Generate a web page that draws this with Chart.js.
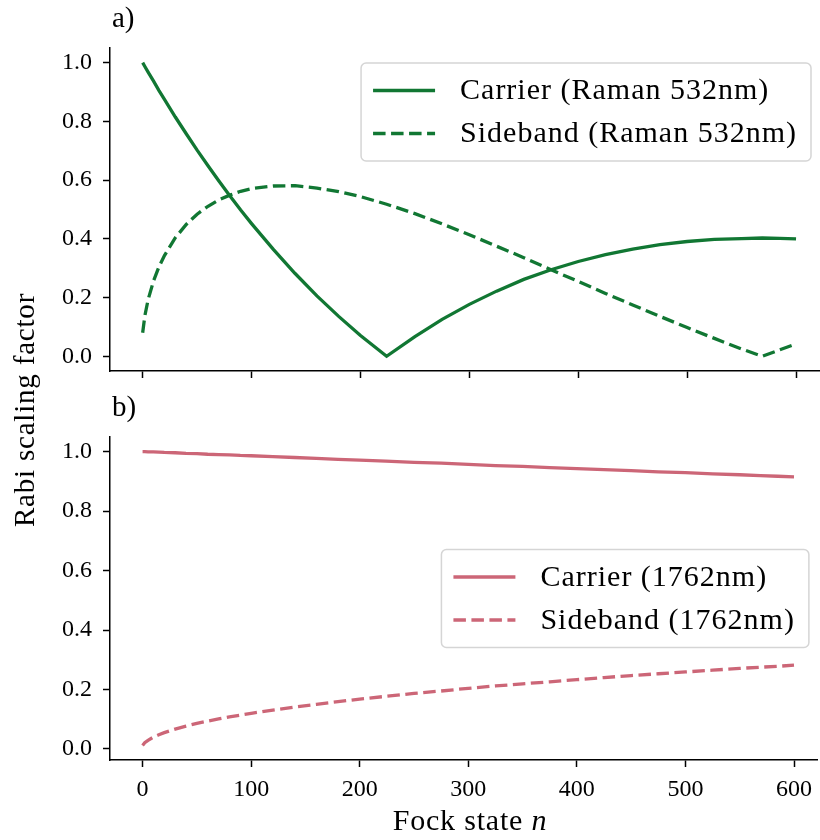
<!DOCTYPE html>
<html>
<head>
<meta charset="utf-8">
<script src="https://cdn.jsdelivr.net/npm/chart.js@4.4.1/dist/chart.umd.min.js"></script>
<style>
  body { margin: 0; background: #fff; }
  #wrap { position: relative; width: 820px; height: 840px; }
  #wrap canvas { position: absolute; left: 0; top: 0; }
</style>
</head>
<body>
<div id="wrap">
  <canvas id="chartA" width="820" height="840"></canvas>
  <canvas id="chartB" width="820" height="840"></canvas>
</div>
<script>
// Fock state n (x values shared by every curve)
const fockN = [0, 2, 5, 10, 15, 20, 30, 40, 50, 60, 70, 80, 90, 100, 120, 140, 160, 180, 200, 224,
  250, 275, 300, 325, 350, 375, 400, 425, 450, 475, 500, 525, 550, 569, 585, 600];

// a) Raman 532nm
const carrier532 = [1.000, 0.987, 0.968, 0.937, 0.905, 0.875, 0.815, 0.758, 0.702, 0.649, 0.597, 0.547,
  0.498, 0.452, 0.364, 0.282, 0.206, 0.136, 0.071, 0.000, 0.067, 0.126, 0.177, 0.222, 0.262, 0.295,
  0.323, 0.346, 0.365, 0.380, 0.391, 0.398, 0.401, 0.403, 0.402, 0.400];
const sideband532 = [0.080, 0.138, 0.193, 0.257, 0.305, 0.343, 0.404, 0.449, 0.484, 0.511, 0.533, 0.549,
  0.562, 0.571, 0.580, 0.581, 0.573, 0.561, 0.544, 0.518, 0.486, 0.451, 0.414, 0.375, 0.336, 0.295,
  0.255, 0.214, 0.175, 0.136, 0.098, 0.061, 0.025, 0.000, 0.022, 0.042];

// b) 1762nm
const carrier1762 = [1.000, 1.000, 0.999, 0.999, 0.998, 0.997, 0.996, 0.994, 0.993, 0.991, 0.990, 0.989,
  0.987, 0.986, 0.983, 0.980, 0.977, 0.974, 0.971, 0.968, 0.964, 0.961, 0.957, 0.953, 0.950, 0.946,
  0.943, 0.939, 0.936, 0.932, 0.929, 0.925, 0.922, 0.919, 0.917, 0.915];
const sideband1762 = [0.012, 0.021, 0.029, 0.040, 0.048, 0.055, 0.067, 0.077, 0.086, 0.094, 0.101, 0.108,
  0.114, 0.120, 0.131, 0.141, 0.150, 0.159, 0.168, 0.177, 0.187, 0.195, 0.204, 0.212, 0.219, 0.226,
  0.233, 0.240, 0.247, 0.253, 0.259, 0.265, 0.271, 0.275, 0.278, 0.282];

const xTicks = [0, 100, 200, 300, 400, 500, 600];
const yTicks = [0, 0.2, 0.4, 0.6, 0.8, 1.0];

const FONT = '"Liberation Serif", "DejaVu Serif", serif';
const GREEN = '#117733';
const ROSE = '#CC6677';

function pts(arr) {
    return fockN.map((n, i) => ({ x: n, y: arr[i] }));
}

// legend in a rounded box inside the plot area (matplotlib style)
const boxLegend = {
    id: 'boxLegend',
    afterDraw(chart, args, opts) {
        const ctx = chart.ctx;
        const area = chart.chartArea;
        const sets = chart.data.datasets;
        ctx.save();
        ctx.font = '30px ' + FONT;
        ctx.letterSpacing = '1px';
        const textW = Math.max(...sets.map(d => ctx.measureText(d.label).width));
        const rowH = 43;
        const w = 12 + 62 + 25 + textW + 14;
        const h = sets.length * rowH + 12;
        const x = area.right - 9 - w;
        const y = opts.loc === 'center' ? (area.top + area.bottom) / 2 - h / 2 : area.top + 15;
        ctx.beginPath();
        ctx.roundRect(x, y, w, h, 5);
        ctx.fillStyle = 'rgba(255,255,255,0.9)';
        ctx.fill();
        ctx.strokeStyle = '#d5d5d5';
        ctx.lineWidth = 1.5;
        ctx.stroke();
        sets.forEach((d, i) => {
            const cy = y + 6 + rowH / 2 + i * rowH;
            ctx.beginPath();
            ctx.strokeStyle = d.borderColor;
            ctx.lineWidth = d.borderWidth;
            ctx.setLineDash(d.borderDash || []);
            ctx.moveTo(x + 12, cy);
            ctx.lineTo(x + 74, cy);
            ctx.stroke();
            ctx.setLineDash([]);
            ctx.fillStyle = '#000';
            ctx.textBaseline = 'middle';
            ctx.textAlign = 'left';
            ctx.fillText(d.label, x + 99, cy + 1);
        });
        ctx.restore();
    }
};

// panel letters and the axis titles
const labels = {
    id: 'labels',
    afterDraw(chart, args, opts) {
        const ctx = chart.ctx;
        const area = chart.chartArea;
        ctx.save();
        ctx.fillStyle = '#000';
        ctx.textBaseline = 'middle';
        ctx.font = '29px ' + FONT;
        ctx.textAlign = 'left';
        ctx.fillText(opts.panel, area.left + 2, area.top - 29);
        ctx.letterSpacing = '0.8px';
        if (opts.yTitle) {
            ctx.save();
            ctx.translate(26, 410);
            ctx.rotate(-Math.PI / 2);
            ctx.textAlign = 'center';
            ctx.fillText('Rabi scaling factor', 0, 0);
            ctx.restore();
        }
        if (opts.xTitle) {
            const a = 'Fock state ';
            ctx.font = '30px ' + FONT;
            const wa = ctx.measureText(a).width;
            ctx.font = 'italic 30px ' + FONT;
            const wb = ctx.measureText('n').width;
            const x0 = 470 - (wa + wb) / 2;
            ctx.font = '30px ' + FONT;
            ctx.fillText(a, x0, 822);
            ctx.font = 'italic 30px ' + FONT;
            ctx.fillText('n', x0 + wa, 822);
        }
        ctx.restore();
    }
};

function xScale(showLabels, height) {
    return {
        type: 'linear',
        min: -30,
        max: 622,
        afterBuildTicks: s => { s.ticks = xTicks.map(v => ({ value: v })); },
        afterFit: s => { s.height = height; },
        grid: { drawOnChartArea: false, drawTicks: true, tickLength: 7, tickWidth: 1.5, tickColor: '#000' },
        border: { display: true, color: '#000', width: 1.5 },
        ticks: { display: showLabels, padding: 8, color: '#000', maxRotation: 0, autoSkip: false,
            font: { family: FONT, size: 24 } }
    };
}

function yScale(min, max) {
    return {
        type: 'linear',
        min: min,
        max: max,
        afterBuildTicks: s => { s.ticks = yTicks.map(v => ({ value: v })); },
        afterFit: s => { s.width = 110; },
        grid: { drawOnChartArea: false, drawTicks: true, tickLength: 7, tickWidth: 1.5, tickColor: '#000' },
        border: { display: true, color: '#000', width: 1.5 },
        ticks: { padding: 11, color: '#000', callback: v => v.toFixed(1),
            font: { family: FONT, size: 24 } }
    };
}

function line(label, arr, color, dashed) {
    return {
        label: label,
        data: pts(arr),
        borderColor: color,
        borderWidth: 3.3,
        borderDash: dashed ? [12.5, 5.5] : [],
        pointRadius: 0,
        fill: false,
        tension: 0
    };
}

new Chart(document.getElementById('chartB'), {
    type: 'line',
    data: {
        datasets: [
            line('Carrier (1762nm)', carrier1762, ROSE, false),
            line('Sideband (1762nm)', sideband1762, ROSE, true)
        ]
    },
    options: {
        responsive: false,
        animation: false,
        layout: { padding: { top: 437, left: 0, right: 0, bottom: 0 } },
        scales: { x: xScale(true, 80), y: yScale(-0.037, 1.049) },
        plugins: {
            legend: { display: false },
            tooltip: { enabled: false },
            boxLegend: { loc: 'center' },
            labels: { panel: 'b)', xTitle: true }
        }
    },
    plugins: [boxLegend, labels]
});

new Chart(document.getElementById('chartA'), {
    type: 'line',
    data: {
        datasets: [
            line('Carrier (Raman 532nm)', carrier532, GREEN, false),
            line('Sideband (Raman 532nm)', sideband532, GREEN, true)
        ]
    },
    options: {
        responsive: false,
        animation: false,
        layout: { padding: { top: 48, left: 0, right: 0, bottom: 440 } },
        scales: { x: xScale(false, 29), y: yScale(-0.05, 1.05) },
        plugins: {
            legend: { display: false },
            tooltip: { enabled: false },
            boxLegend: { loc: 'upper' },
            labels: { panel: 'a)', yTitle: true }
        }
    },
    plugins: [boxLegend, labels]
});
</script>
</body>
</html>
